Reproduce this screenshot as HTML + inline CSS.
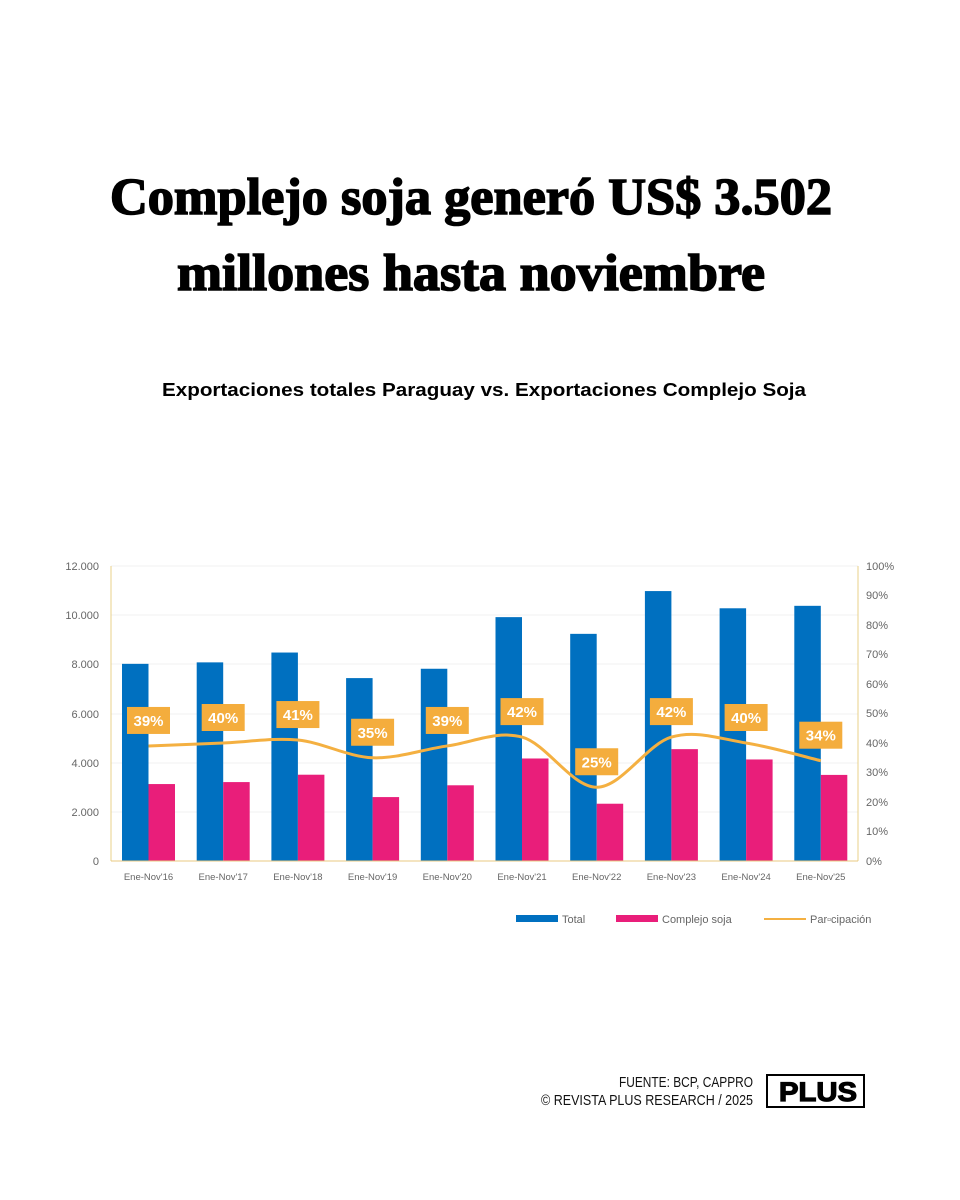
<!DOCTYPE html>
<html><head><meta charset="utf-8"><style>
body{margin:0;width:960px;height:1200px;background:#fff;font-family:"Liberation Sans",sans-serif;position:relative;overflow:hidden}
</style></head><body>
<svg width="960" height="1200" style="position:absolute;left:0;top:0" font-family="Liberation Sans, sans-serif">
<g font-family="Liberation Serif, serif" font-weight="bold" font-size="52" fill="#000" stroke="#000" stroke-width="1.6">
<text x="110" y="214" textLength="722" lengthAdjust="spacingAndGlyphs">Complejo soja generó US$ 3.502</text>
<text x="177" y="290" textLength="588" lengthAdjust="spacingAndGlyphs">millones hasta noviembre</text>
</g>
<text x="162" y="396" textLength="644" lengthAdjust="spacingAndGlyphs" font-size="18" font-weight="bold">Exportaciones totales Paraguay vs. Exportaciones Complejo Soja</text>
<g stroke="#f2f2f2" stroke-width="1">
<line x1="111" x2="858" y1="566" y2="566"/><line x1="111" x2="858" y1="615" y2="615"/><line x1="111" x2="858" y1="664" y2="664"/><line x1="111" x2="858" y1="714" y2="714"/><line x1="111" x2="858" y1="763" y2="763"/><line x1="111" x2="858" y1="812" y2="812"/>
</g>
<g font-size="11" fill="#666" text-anchor="end">
<text x="99" y="570">12.000</text><text x="99" y="619">10.000</text><text x="99" y="668">8.000</text><text x="99" y="718">6.000</text><text x="99" y="767">4.000</text><text x="99" y="816">2.000</text><text x="99" y="865">0</text>
</g>
<g font-size="11" fill="#666" text-anchor="start">
<text x="866" y="570">100%</text><text x="866" y="599">90%</text><text x="866" y="629">80%</text><text x="866" y="658">70%</text><text x="866" y="688">60%</text><text x="866" y="717">50%</text><text x="866" y="747">40%</text><text x="866" y="776">30%</text><text x="866" y="806">20%</text><text x="866" y="835">10%</text><text x="866" y="865">0%</text>
</g>
<g id="bars"></g>
<line x1="111" x2="111" y1="566" y2="861" stroke="#e8d08a"/>
<line x1="858" x2="858" y1="566" y2="861" stroke="#e8d08a"/>
<line x1="111" x2="858" y1="861" y2="861" stroke="#e8c880"/>
<g id="lbl"></g>
<g font-size="11" fill="#666">
<rect x="516" y="915" width="42" height="7" fill="#0070c0"/><text x="562" y="923">Total</text>
<rect x="616" y="915" width="42" height="7" fill="#e91e7a"/><text x="662" y="923">Complejo soja</text>
<line x1="764" x2="806" y1="919" y2="919" stroke="#f4b041" stroke-width="2"/><text x="810" y="923">Par&#9643;cipación</text>
</g>
<g font-size="15" fill="#111" text-anchor="end">
<text x="753" y="1087" textLength="134" lengthAdjust="spacingAndGlyphs">FUENTE: BCP, CAPPRO</text>
<text x="753" y="1105" textLength="212" lengthAdjust="spacingAndGlyphs">© REVISTA PLUS RESEARCH / 2025</text>
</g>
<rect x="767" y="1075" width="97" height="32" fill="#fff" stroke="#000" stroke-width="2"/>
<text x="779" y="1101" textLength="78" lengthAdjust="spacingAndGlyphs" font-size="27" font-weight="900" stroke="#000" stroke-width="1.2">PLUS</text>
</svg>
<script>
const T=[8020,8080,8480,7440,7820,9920,9240,10980,10280,10380],S=[3130,3210,3510,2600,3080,4170,2330,4550,4130,3502],P=[39,40,41,35,39,42,25,42,40,34];
const y=v=>861-v*295/12000,py=p=>861-p*2.95;let b='',l='';const pts=[];
const labs=['16','17','18','19','20','21','22','23','24','25'];
for(let i=0;i<10;i++){const c=148.5+i*74.7;
b+=`<rect x="${c-26.5}" y="${y(T[i])}" width="26.5" height="${861-y(T[i])}" fill="#0070c0"/><rect x="${c}" y="${y(S[i])}" width="26.5" height="${861-y(S[i])}" fill="#e91e7a"/>`;
b+=`<text x="${c}" y="880" font-size="9.5" fill="#666" text-anchor="middle">Ene-Nov'${labs[i]}</text>`;
pts.push([c,py(P[i])]);
l+=`<rect x="${c-21.5}" y="${py(P[i])-39}" width="43" height="27" fill="#f4ad3d"/><text x="${c}" y="${py(P[i])-20}" font-size="15" font-weight="bold" fill="#fff" text-anchor="middle">${P[i]}%</text>`;}
let d=`M${pts[0][0]},${pts[0][1]}`;
for(let i=0;i<9;i++){const p0=pts[Math.max(0,i-1)],p1=pts[i],p2=pts[i+1],p3=pts[Math.min(9,i+2)];
d+=` C${p1[0]+(p2[0]-p0[0])/6},${p1[1]+(p2[1]-p0[1])/6} ${p2[0]-(p3[0]-p1[0])/6},${p2[1]-(p3[1]-p1[1])/6} ${p2[0]},${p2[1]}`;}
b+=`<path d="${d}" fill="none" stroke="#f4b041" stroke-width="3"/>`;
document.getElementById('bars').innerHTML=b;document.getElementById('lbl').innerHTML=l;
</script>
</body></html>
